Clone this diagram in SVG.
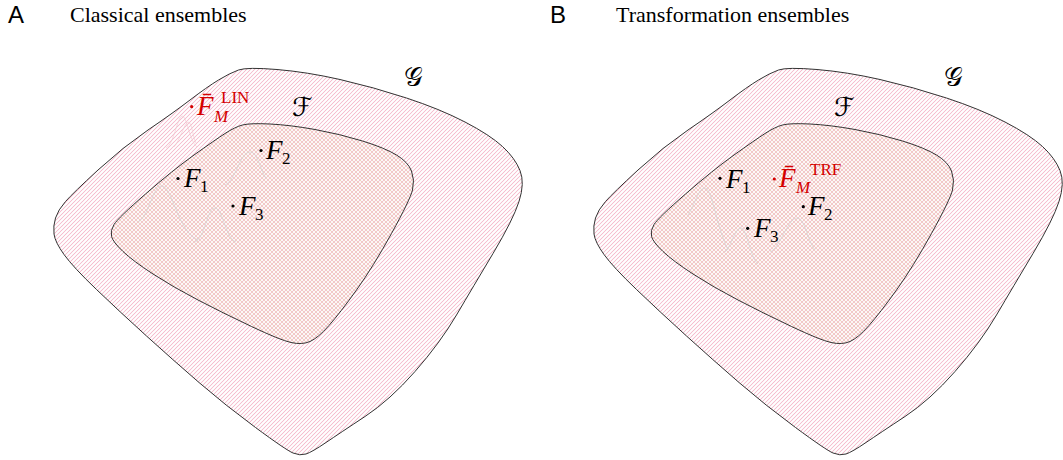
<svg xmlns="http://www.w3.org/2000/svg" width="1063" height="460" viewBox="0 0 1063 460">
<style>
.bg{fill:#ffffff}
.title{font-family:"Liberation Serif","Times New Roman",serif;font-size:22px;fill:#000}
.panel{font-family:"Liberation Sans",sans-serif;font-size:24px;fill:#000}
.m{font-family:"Liberation Serif",serif;font-style:italic;font-size:27px;fill:#000}
.s{font-size:17px}
.up{font-style:normal}
.red{fill:#d40000}
.scr{font-family:"DejaVu Serif","DejaVu Sans",serif;font-size:26px;fill:#000}
.gset{fill:url(#hatch);stroke:#333333;stroke-width:1}
.fset{fill:url(#cross);stroke:#333333;stroke-width:1}
.ne{fill:#f3a6bd}
.ne2{fill:#f1aebf}
.nw{fill:#ecc2ae}
.faint{fill:none;stroke:#d2d2d2;stroke-width:0.7}
.faintp{fill:none;stroke:#f2cbd3;stroke-width:0.7}
</style>
<defs>
<pattern id="hatch" patternUnits="userSpaceOnUse" width="4" height="4">
<rect x="0" y="0" width="4" height="4" fill="#ffffff"/>
<polygon class="ne" points="0,3.55 3.55,0 4,0 4,0.45 0.45,4 0,4"/>
<polygon class="ne" points="0,0 0.45,0 0,0.45"/>
<polygon class="ne" points="4,3.55 4,4 3.55,4"/>
</pattern>
<pattern id="cross" patternUnits="userSpaceOnUse" width="4" height="4">
<rect x="0" y="0" width="4" height="4" fill="#ffffff"/>
<polygon class="ne2" points="0,3.55 3.55,0 4,0 4,0.45 0.45,4 0,4"/>
<polygon class="ne2" points="0,0 0.45,0 0,0.45"/>
<polygon class="ne2" points="4,3.55 4,4 3.55,4"/>
<polygon class="nw" points="0,0 0.45,0 4,3.55 4,4 3.55,4 0,0.45"/>
<polygon class="nw" points="3.55,0 4,0 4,0.45"/>
<polygon class="nw" points="0,3.55 0,4 0.45,4"/>
</pattern>
</defs>
<rect class="bg" x="0" y="0" width="1063" height="460"/>

<g id="panelA">
<text class="panel" x="8" y="23">A</text>
<text class="title" x="70" y="22">Classical ensembles</text>
<g id="setG-A">
<path class="gset" d="M277,69.5 Q307,72 340,79.5 Q373,87 406.5,98 Q440,109 465,122 Q490,135 502.5,146.5 Q515,158 520,170.5 Q525,183 519,201.5 Q513,220 493,253.5 Q473,287 456.5,315 Q440,343 415,371.5 Q390,400 365,416.5 Q340,433 326,442.5 Q312,452 306,454 Q300,456 293,453 Q286,450 255.5,427.5 Q225,405 199,382.5 Q173,360 146.5,336 Q120,312 96.5,289.5 Q73,267 64,254.5 Q55,242 54,234 Q53,226 55.5,218 Q58,210 65.5,201.5 Q73,193 98,170 Q123,147 148,130 Q173,113 190,100 Q207,87 218.5,80 Q230,73 238.5,70 Q247,67 277,69.5 Z"/>
<text class="scr" x="404" y="86">𝒢</text>
</g>
<g id="setF-A">
<path class="fset" d="M270,124 Q290,125 315,129.5 Q340,134 362.5,141 Q385,148 396.5,155 Q408,162 411.5,171 Q415,180 412.5,190 Q410,200 391.5,233.5 Q373,267 356.5,290 Q340,313 329,325.5 Q318,338 310,341.5 Q302,345 291,342.5 Q280,340 251.5,326.5 Q223,313 198,300 Q173,287 153,274 Q133,261 123,251.5 Q113,242 111.5,236.5 Q110,231 114,224.5 Q118,218 145.5,194 Q173,170 194,155 Q215,140 225,133.5 Q235,127 242.5,125 Q250,123 270,124 Z"/>
<text class="scr" x="292" y="116">ℱ</text>
</g>
<g id="curves-A">
<path class="faintp" d="M166,148 C174,144 177,118 182,116 C187,116 189,140 197,147"/>
<path class="faintp" d="M174,147 C180,140 184,124 188,122 C192,122 193,138 196,143"/>
<path class="faint" d="M138,222 C150,215 152,186 162,186 C172,186 178,232 198,240"/>
<path class="faint" d="M195,242 C205,238 207,208 215,208 C223,208 225,238 236,242"/>
<path class="faint" d="M225,185 C236,180 240,152 250,152 C258,152 260,170 266,178"/>
</g>
<g id="FM-LIN">
<circle class="red" cx="191.7" cy="106.7" r="1.6"/>
<text class="m red" x="197" y="115">F̄<tspan class="s" x="214" y="121.5">M</tspan><tspan class="s up" x="221" y="103.3">LIN</tspan></text>
</g>
<g id="F1-A">
<circle cx="178" cy="178.5" r="1.6"/>
<text class="m" x="184" y="186.5">F<tspan class="s up" x="200" y="191.5">1</tspan></text>
</g>
<g id="F2-A">
<circle cx="261" cy="150.5" r="1.6"/>
<text class="m" x="266" y="158.5">F<tspan class="s up" x="282" y="163.5">2</tspan></text>
</g>
<g id="F3-A">
<circle cx="233" cy="206" r="1.6"/>
<text class="m" x="239" y="215">F<tspan class="s up" x="255" y="220">3</tspan></text>
</g>
</g>

<g id="panelB">
<text class="panel" x="550" y="23">B</text>
<text class="title" x="616" y="22">Transformation ensembles</text>
<g id="setG-B" transform="translate(540,0)">
<path class="gset" d="M277,69.5 Q307,72 340,79.5 Q373,87 406.5,98 Q440,109 465,122 Q490,135 502.5,146.5 Q515,158 520,170.5 Q525,183 519,201.5 Q513,220 493,253.5 Q473,287 456.5,315 Q440,343 415,371.5 Q390,400 365,416.5 Q340,433 326,442.5 Q312,452 306,454 Q300,456 293,453 Q286,450 255.5,427.5 Q225,405 199,382.5 Q173,360 146.5,336 Q120,312 96.5,289.5 Q73,267 64,254.5 Q55,242 54,234 Q53,226 55.5,218 Q58,210 65.5,201.5 Q73,193 98,170 Q123,147 148,130 Q173,113 190,100 Q207,87 218.5,80 Q230,73 238.5,70 Q247,67 277,69.5 Z"/>
<text class="scr" x="404" y="86">𝒢</text>
</g>
<g id="setF-B" transform="translate(540,0)">
<path class="fset" d="M270,124 Q290,125 315,129.5 Q340,134 362.5,141 Q385,148 396.5,155 Q408,162 411.5,171 Q415,180 412.5,190 Q410,200 391.5,233.5 Q373,267 356.5,290 Q340,313 329,325.5 Q318,338 310,341.5 Q302,345 291,342.5 Q280,340 251.5,326.5 Q223,313 198,300 Q173,287 153,274 Q133,261 123,251.5 Q113,242 111.5,236.5 Q110,231 114,224.5 Q118,218 145.5,194 Q173,170 194,155 Q215,140 225,133.5 Q235,127 242.5,125 Q250,123 270,124 Z"/>
<text class="scr" x="294" y="116">ℱ</text>
</g>
<g id="curves-B">
<path class="faint" d="M688,215 C695,205 698,188 705,188 C712,188 716,225 728,250"/>
<path class="faint" d="M725,252 C732,245 735,228 741,228 C747,228 750,258 758,264"/>
<path class="faint" d="M770,252 C780,248 788,218 797,218 C805,218 807,240 815,250"/>
</g>
<g id="F1-B">
<circle cx="720" cy="178.3" r="1.6"/>
<text class="m" x="726" y="187.5">F<tspan class="s up" x="742" y="192.5">1</tspan></text>
</g>
<g id="FM-TRF">
<circle class="red" cx="774.3" cy="179" r="1.6"/>
<text class="m red" x="779" y="186.7">F̄<tspan class="s" x="796" y="193.3">M</tspan><tspan class="s up" x="810" y="175">TRF</tspan></text>
</g>
<g id="F2-B">
<circle cx="803.3" cy="206.7" r="1.6"/>
<text class="m" x="808" y="215">F<tspan class="s up" x="824" y="220">2</tspan></text>
</g>
<g id="F3-B">
<circle cx="747.7" cy="228.3" r="1.6"/>
<text class="m" x="754" y="236.7">F<tspan class="s up" x="770" y="241.7">3</tspan></text>
</g>
</g>
</svg>
